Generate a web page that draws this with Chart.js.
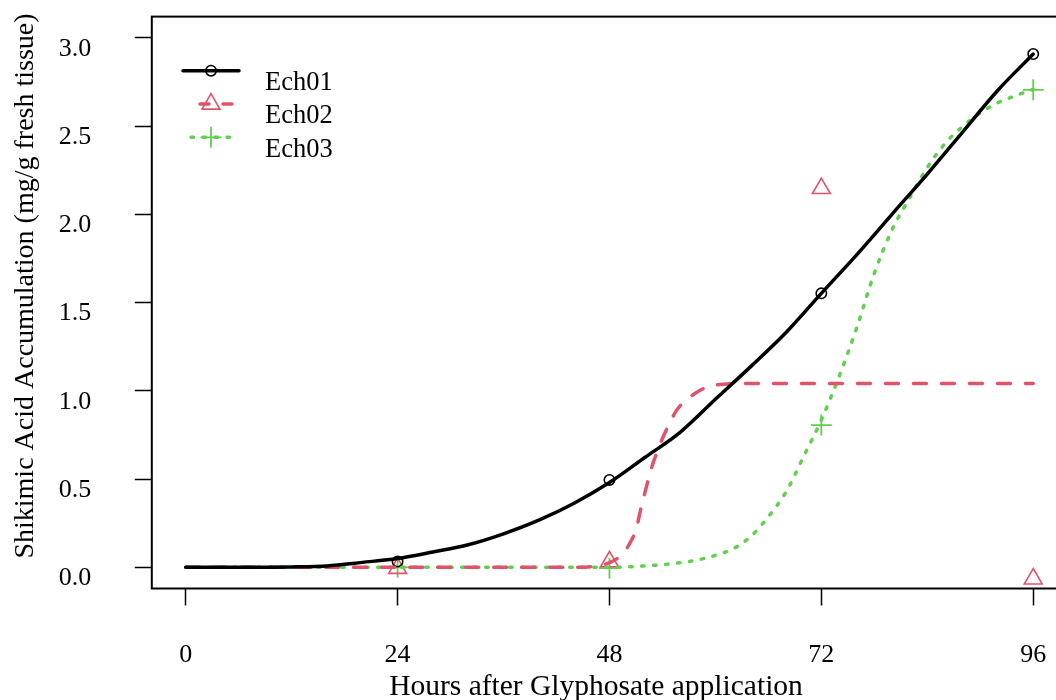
<!DOCTYPE html>
<html>
<head>
<meta charset="utf-8">
<script src="https://cdn.jsdelivr.net/npm/chart.js@4.4.1/dist/chart.umd.min.js"></script>
<style>
html,body{margin:0;padding:0;background:#fff;overflow:hidden}
canvas{display:block}
</style>
</head>
<body>
<canvas id="c" width="1056" height="700"></canvas>
<script>
// ---------- data ----------
const seriesNames = ['Ech01', 'Ech02', 'Ech03'];
const xTickValues = [0, 24, 48, 72, 96];
const yTickValues = [0, 0.5, 1.0, 1.5, 2.0, 2.5, 3.0];
const xTitle = 'Hours after Glyphosate application';
const yTitle = 'Shikimic Acid Accumulation (mg/g fresh tissue)';

// observed points
const obsHours = [24, 48, 72, 96];
const ech01Obs = [0.033, 0.495, 1.552, 2.908];
const ech02Obs = [-0.005, 0.032, 2.147, -0.065];
const ech03Obs = [0.0, -0.005, 0.806, 2.705];

// fitted curves
const ech01CurveHours = [0, 4, 8, 12, 16, 20, 24, 28, 32, 36, 40, 44, 48, 52, 56, 60, 64, 68, 72, 76, 80, 84, 88, 92, 96];
const ech01CurveVals  = [0, 0, 0, 0.002, 0.008, 0.028, 0.05, 0.087, 0.128, 0.19, 0.267, 0.363, 0.48, 0.622, 0.765, 0.952, 1.137, 1.33, 1.552, 1.77, 2.0, 2.228, 2.466, 2.703, 2.908];

const ech02CurveHours = [0, 44, 46, 47, 48, 49, 50, 50.5, 51, 51.5, 52, 52.5, 53, 53.5, 54, 54.5, 55, 55.5, 56, 57, 58, 59, 60, 62, 64, 80, 96];
const ech02CurveVals  = [0, 0, 0.004, 0.012, 0.026, 0.055, 0.11, 0.155, 0.21, 0.32, 0.42, 0.515, 0.6, 0.665, 0.73, 0.785, 0.835, 0.882, 0.915, 0.96, 0.995, 1.02, 1.032, 1.04, 1.041, 1.041, 1.041];

const ech03CurveHours = [0, 24, 48, 52, 55, 58, 60, 62, 64, 66, 68, 70, 72, 74, 76, 78, 80, 82, 84, 86, 88, 90, 92, 94, 96];
const ech03CurveVals  = [0, 0, 0.0, 0.008, 0.02, 0.042, 0.068, 0.105, 0.175, 0.287, 0.427, 0.629, 0.835, 1.08, 1.356, 1.666, 1.911, 2.093, 2.265, 2.40, 2.497, 2.574, 2.632, 2.672, 2.708];

// ---------- styles ----------
const BLACK = '#000000', RED = '#DF536B', GREEN = '#61D04F';
const FONT = '"Liberation Serif", "Times New Roman", serif';
const pts = (xs, ys) => xs.map((x, i) => ({x: x, y: ys[i]}));

const curveBase = {
  pointRadius: 0, pointHoverRadius: 0, fill: false,
  cubicInterpolationMode: 'monotone', borderCapStyle: 'round', borderJoinStyle: 'round',
  borderWidth: 3.5
};
const obsBase = {showLine: false, backgroundColor: 'rgba(0,0,0,0)'};

const datasets = [
  Object.assign({}, curveBase, {label: seriesNames[0], data: pts(ech01CurveHours, ech01CurveVals), borderColor: BLACK}),
  Object.assign({}, curveBase, {label: seriesNames[1], data: pts(ech02CurveHours, ech02CurveVals), borderColor: RED, borderDash: [13, 15]}),
  Object.assign({}, curveBase, {label: seriesNames[2], data: pts(ech03CurveHours, ech03CurveVals), borderColor: GREEN, borderDash: [2.5, 9.5]}),
  Object.assign({}, obsBase, {label: seriesNames[0] + ' obs', data: pts(obsHours, ech01Obs), pointStyle: 'circle', pointRadius: 5.2, borderColor: BLACK, pointBorderColor: BLACK, pointBorderWidth: 1.6}),
  Object.assign({}, obsBase, {label: seriesNames[1] + ' obs', data: pts(obsHours, ech02Obs), pointStyle: 'triangle', pointRadius: 10.3, borderColor: RED, pointBorderColor: RED, pointBorderWidth: 1.6}),
  Object.assign({}, obsBase, {label: seriesNames[2] + ' obs', data: pts(obsHours, ech03Obs), pointStyle: 'cross', pointRadius: 10.5, borderColor: GREEN, pointBorderColor: GREEN, pointBorderWidth: 1.8})
];

// ---------- legend / frame / titles ----------
function drawMarker(ctx, style, color, x, y) {
  ctx.save();
  ctx.strokeStyle = color; ctx.setLineDash([]);
  ctx.beginPath();
  if (style === 'circle') {
    ctx.lineWidth = 1.6; ctx.arc(x, y, 5.2, 0, Math.PI * 2);
  } else if (style === 'triangle') {
    const r = 10.3, s = Math.sin(Math.PI * 2 / 3) * r;
    ctx.lineWidth = 1.6;
    ctx.moveTo(x, y - r); ctx.lineTo(x + s, y + r / 2); ctx.lineTo(x - s, y + r / 2); ctx.closePath();
  } else {
    const r = 10.5; ctx.lineWidth = 1.8;
    ctx.moveTo(x - r, y); ctx.lineTo(x + r, y); ctx.moveTo(x, y - r); ctx.lineTo(x, y + r);
  }
  ctx.stroke();
  ctx.restore();
}

const decor = {
  id: 'decor',
  afterDraw(chart) {
    const {ctx, chartArea: a} = chart;
    ctx.save();
    // box
    ctx.strokeStyle = '#000'; ctx.lineWidth = 2; ctx.setLineDash([]);
    ctx.strokeRect(a.left, a.top, a.right - a.left + 30, a.bottom - a.top);
    // axis titles
    ctx.fillStyle = '#000';
    ctx.textAlign = 'center'; ctx.textBaseline = 'alphabetic';
    ctx.font = '29.5px ' + FONT;
    ctx.fillText(xTitle, 596, 695);
    ctx.save();
    ctx.translate(33, 286); ctx.rotate(-Math.PI / 2);
    ctx.font = '28px ' + FONT;
    ctx.fillText(yTitle, 0, 0);
    ctx.restore();
    // legend
    const rows = [
      {name: seriesNames[0], color: BLACK, dash: [], from: 183, to: 239, style: 'circle', y: 70.7},
      {name: seriesNames[1], color: RED, dash: [9, 14], from: 200, to: 239, style: 'triangle', y: 104},
      {name: seriesNames[2], color: GREEN, dash: [2.5, 9.5], from: 191, to: 233, style: 'cross', y: 137.3}
    ];
    rows.forEach(r => {
      ctx.save();
      ctx.strokeStyle = r.color; ctx.lineWidth = 3.5; ctx.lineCap = 'round';
      ctx.setLineDash(r.dash);
      ctx.beginPath(); ctx.moveTo(r.from, r.y); ctx.lineTo(r.to, r.y); ctx.stroke();
      ctx.restore();
      drawMarker(ctx, r.style, r.color, 211, r.y);
      ctx.fillStyle = '#000'; ctx.textAlign = 'left'; ctx.textBaseline = 'alphabetic';
      ctx.font = '26.5px ' + FONT;
      ctx.fillText(r.name, 265, r.y + 19.3);
    });
    ctx.restore();
  }
};

function zeroPad(scale) {
  scale.paddingTop = 0; scale.paddingBottom = 0; scale.paddingLeft = 0; scale.paddingRight = 0;
}

new Chart(document.getElementById('c'), {
  type: 'line',
  data: {datasets: datasets},
  plugins: [decor],
  options: {
    responsive: false, animation: false, devicePixelRatio: 1,
    layout: {autoPadding: false, padding: {top: 16.6, right: 0, bottom: 0, left: 0}},
    plugins: {legend: {display: false}, tooltip: {enabled: false}},
    events: [],
    scales: {
      x: {
        type: 'linear', position: 'bottom', min: -3.84, max: 98.58,
        afterBuildTicks: s => { s.ticks = xTickValues.map(v => ({value: v})); },
        afterFit: s => { s.height = 111.5; zeroPad(s); },
        ticks: {
          color: '#000', padding: 37, maxRotation: 0, autoSkip: false,
          font: {family: FONT, size: 26, lineHeight: 1},
          callback: v => String(v)
        },
        grid: {display: true, drawOnChartArea: false, drawTicks: true, tickLength: 17, tickColor: '#000', tickWidth: 1.5, color: '#000'},
        border: {display: false}
      },
      y: {
        type: 'linear', position: 'left', min: -0.12, max: 3.12,
        afterBuildTicks: s => { s.ticks = yTickValues.map(v => ({value: v})); },
        afterFit: s => { s.width = 151.8; zeroPad(s); },
        ticks: {
          color: '#000', padding: 43.5, labelOffset: 11, autoSkip: false,
          font: {family: FONT, size: 26, lineHeight: 1},
          callback: v => Number(v).toFixed(1)
        },
        grid: {display: true, drawOnChartArea: false, drawTicks: true, tickLength: 17, tickColor: '#000', tickWidth: 1.5, color: '#000'},
        border: {display: false}
      }
    }
  }
});
</script>
</body>
</html>
